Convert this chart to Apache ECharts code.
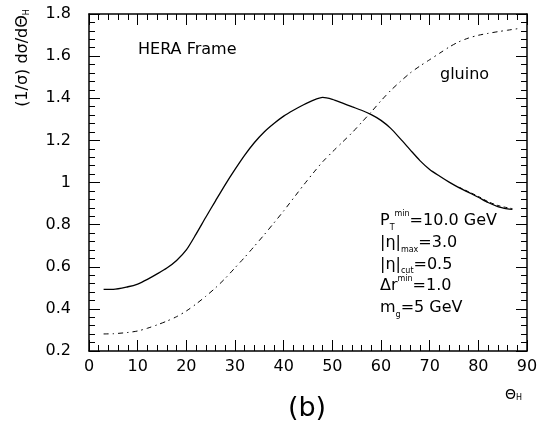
<!DOCTYPE html>
<html>
<head>
<meta charset="utf-8">
<script src="https://cdn.jsdelivr.net/npm/echarts@6/dist/echarts.min.js"></script>
<style>html,body{margin:0;padding:0;background:#fff;}#c{width:549px;height:426px;}</style>
</head>
<body>
<div id="c"></div>
<script>
// ---- data ----
var thetaSolid = [3,5,8,10,12,14,16,18,20,22,24,26,28,30,32,34,36,38,40,42,44,46,48,50,52,54,56,58,60,62,64,66,68,70,72,74,76,78,80,82,84,86,87];
var solidVals  = [0.493,0.493,0.505,0.518,0.54,0.566,0.594,0.63,0.68,0.755,0.835,0.913,0.99,1.062,1.13,1.19,1.24,1.28,1.315,1.343,1.368,1.39,1.404,1.395,1.378,1.36,1.343,1.322,1.295,1.257,1.207,1.155,1.104,1.062,1.031,1.002,0.976,0.953,0.93,0.905,0.886,0.875,0.872];
var thetaDash  = [76,78,80,82,84,86,87];
var dashVals   = [0.978,0.956,0.934,0.909,0.891,0.88,0.876];
var thetaGluino = [3,5,8,10,12,14,16,18,20,22,24,26,28,30,32,34,36,38,40,42,44,46,48,50,52,54,56,58,60,62,64,66,68,70,72,74,76,78,80,82,84,86,88];
var gluinoVals  = [0.281,0.282,0.288,0.295,0.308,0.324,0.342,0.363,0.39,0.423,0.46,0.5,0.545,0.595,0.645,0.698,0.752,0.808,0.865,0.925,0.985,1.043,1.098,1.145,1.19,1.235,1.285,1.335,1.388,1.437,1.48,1.52,1.553,1.583,1.613,1.643,1.668,1.686,1.699,1.708,1.716,1.723,1.73];
var xTicks = [0,10,20,30,40,50,60,70,80,90];
var yTicks = [0.2,0.4,0.6,0.8,1,1.2,1.4,1.6,1.8];

function pairs(xs, ys){ return xs.map(function(x,i){return [x, ys[i]];}); }

var FONT = 'DejaVu Sans';
var axisCommon = function(){
  return {
    axisLine:{show:true, onZero:false, lineStyle:{color:'#000', width:1.5}},
    axisTick:{show:true, inside:true, length:11, lineStyle:{color:'#000', width:1}},
    minorTick:{show:true, splitNumber:5, length:6, lineStyle:{color:'#000', width:1}},
    splitLine:{show:false}
  };
};
function mk(base, extra){ for (var k in extra) base[k]=extra[k]; return base; }

var chart = echarts.init(document.getElementById('c'), null, {renderer:'canvas'});
var option = {
  backgroundColor:'#fff',
  animation:false,
  grid:{left:89, right:22, top:14, bottom:75, containLabel:false},
  xAxis:[
    mk(axisCommon(), {type:'value', position:'bottom', min:xTicks[0], max:xTicks[xTicks.length-1], interval:10,
      axisLabel:{show:true, color:'#000', fontFamily:FONT, fontSize:16, margin:8}}),
    mk(axisCommon(), {type:'value', position:'top', min:xTicks[0], max:xTicks[xTicks.length-1], interval:10,
      axisLabel:{show:false}})
  ],
  yAxis:[
    mk(axisCommon(), {type:'value', position:'left', min:yTicks[0], max:yTicks[yTicks.length-1], interval:0.2,
      axisLabel:{show:true, color:'#000', fontFamily:FONT, fontSize:16, margin:18,
        formatter:function(v){ return String(Math.round(v*10)/10); }}}),
    mk(axisCommon(), {type:'value', position:'right', min:yTicks[0], max:yTicks[yTicks.length-1], interval:0.2,
      axisLabel:{show:false}})
  ],
  series:[
    {type:'line', name:'solid', xAxisIndex:0, yAxisIndex:0, data:pairs(thetaSolid, solidVals), smooth:0.25,
     showSymbol:false, lineStyle:{color:'#000', width:1.3}},
    {type:'line', name:'dashed', xAxisIndex:0, yAxisIndex:0, data:pairs(thetaDash, dashVals), smooth:0.25,
     showSymbol:false, lineStyle:{color:'#000', width:1, type:[4,3]}},
    {type:'line', name:'gluino', xAxisIndex:0, yAxisIndex:0, data:pairs(thetaGluino, gluinoVals), smooth:0.25,
     showSymbol:false, lineStyle:{color:'#000', width:1, type:[5,4,1.5,4]}}
  ],
  graphic:[
    {type:'text', left:138, top:42, style:{text:'HERA Frame', font:'16px "DejaVu Sans"', fill:'#000'}},
    {type:'text', left:440, top:67, style:{text:'gluino', font:'16px "DejaVu Sans"', fill:'#000'}},
    {type:'text', x:380, y:210, style:{
      text:'P{sb|T}{sp|min}=10.0 GeV\n|η|{sb|max}=3.0\n|η|{sb|cut}=0.5\nΔr{sp|min}=1.0\nm{sb|g}=5 GeV',
      fill:'#000', fontFamily:FONT, fontSize:16, lineHeight:21.8,
      rich:{
        sb:{fontSize:8, fontFamily:FONT, verticalAlign:'bottom', lineHeight:21.8},
        sp:{fontSize:8, fontFamily:FONT, verticalAlign:'top', lineHeight:21.8}
      }}},
    {type:'text', x:23, y:58, rotation:Math.PI/2, style:{
      text:'(1/σ) dσ/dΘ{sb|H}', fill:'#000', fontFamily:FONT, fontSize:16, align:'center', verticalAlign:'middle',
      rich:{sb:{fontSize:8, fontFamily:FONT, verticalAlign:'bottom'}}}},
    {type:'text', x:505, y:388, style:{
      text:'Θ{sb|H}', fill:'#000', fontFamily:FONT, fontSize:14,
      rich:{sb:{fontSize:8, fontFamily:FONT, verticalAlign:'bottom'}}}},
    {type:'text', x:307, y:409, style:{text:'(b)', fill:'#000', fontFamily:FONT, fontSize:27, align:'center', verticalAlign:'middle'}}
  ]
};
chart.setOption(option);
</script>
</body>
</html>
